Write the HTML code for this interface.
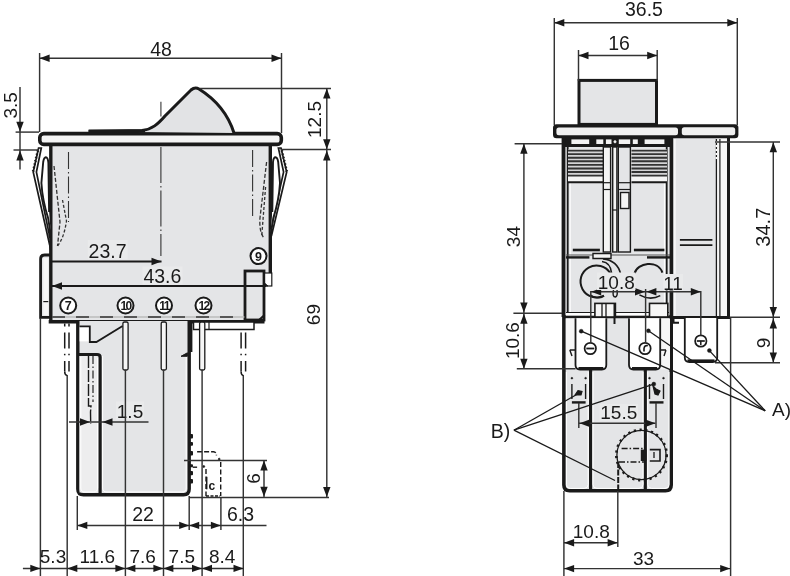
<!DOCTYPE html>
<html><head><meta charset="utf-8"><style>
html,body{margin:0;padding:0;background:#fff;}
svg{display:block;will-change:transform;font-family:"Liberation Sans",sans-serif;fill:#1a1a1a;}
text{fill:#1a1a1a;}
</style></head><body>
<svg width="790" height="576" viewBox="0 0 790 576">
<rect x="0" y="0" width="790" height="576" fill="#ffffff"/>
<rect x="51" y="146" width="220" height="140" rx="0" fill="#e4e5e7" stroke="none" stroke-width="0" />
<rect x="51" y="280" width="214" height="40" rx="0" fill="#e4e5e7" stroke="none" stroke-width="0" />
<path d="M51,317.3 L40.6,317.3 L40.6,259 Q40.6,255 44.6,255 L51,255" stroke="#1a1a1a" stroke-width="2.8" fill="#e4e5e7" />
<rect x="43.3" y="258" width="5" height="57.4" rx="0" fill="#f6f6f6" stroke="none" stroke-width="0" />
<line x1="43.3" y1="301.6" x2="48.3" y2="301.6" stroke="#1a1a1a" stroke-width="1.2" />
<rect x="245" y="271" width="19" height="49" rx="0" fill="#e4e5e7" stroke="#1a1a1a" stroke-width="2.8" />
<rect x="39.8" y="133.6" width="241.5" height="10.8" rx="4" fill="#f4f4f4" stroke="#1a1a1a" stroke-width="3.6" />
<path d="M88.6,131.5 L142,130.5 C152,129.5 158,124 165,116 L191,90 Q195,86.5 199,89 C215,99 228,114 234,133" stroke="#1a1a1a" stroke-width="3.0" fill="#e2e3e5" />
<line x1="88.6" y1="131" x2="145" y2="131" stroke="#1a1a1a" stroke-width="3.2" />
<line x1="50.8" y1="146" x2="50.8" y2="323" stroke="#1a1a1a" stroke-width="3.4" />
<line x1="270.3" y1="146" x2="270.3" y2="274" stroke="#1a1a1a" stroke-width="3.4" />
<line x1="48.7" y1="321.7" x2="264.5" y2="321.7" stroke="#1a1a1a" stroke-width="3.6" />
<rect x="264.6" y="273" width="7.2" height="13" rx="0" fill="#ffffff" stroke="#1a1a1a" stroke-width="1.2" />
<path d="M264.6,283 L268,286 L264.6,286 Z" stroke="#1a1a1a" stroke-width="0.8" fill="#1a1a1a" />
<path d="M259,320 L264.5,315" stroke="#1a1a1a" stroke-width="2" fill="none" />
<line x1="52" y1="317" x2="245" y2="317" stroke="#bbb" stroke-width="1.4" />
<line x1="52" y1="317" x2="245" y2="317" stroke="#333" stroke-width="1.6" stroke-dasharray="13,11"/>
<line x1="160.9" y1="101.8" x2="160.9" y2="116.5" stroke="#555" stroke-width="1.3" />
<line x1="160.9" y1="147" x2="160.9" y2="256" stroke="#333333" stroke-width="1.1" stroke-dasharray="36,3,1.5,3"/>
<line x1="68.5" y1="152" x2="68.5" y2="222" stroke="#333333" stroke-width="1.1" stroke-dasharray="17,3,1.5,3"/>
<line x1="252.6" y1="150" x2="252.6" y2="216" stroke="#333333" stroke-width="1.1" stroke-dasharray="17,3,1.5,3"/>
<path d="M38.6,148 L33.2,172 L50.8,250 L50.6,241 L36.4,172 L41.3,148 Z" stroke="#1a1a1a" stroke-width="1.7" fill="#ffffff" />
<line x1="36.55" y1="150.4" x2="38.75" y2="151.8" stroke="#1a1a1a" stroke-width="1.3" />
<line x1="35.8075" y1="153.70000000000002" x2="38.0075" y2="155.10000000000002" stroke="#1a1a1a" stroke-width="1.3" />
<line x1="35.065000000000005" y1="157.0" x2="37.26500000000001" y2="158.4" stroke="#1a1a1a" stroke-width="1.3" />
<line x1="34.3225" y1="160.3" x2="36.5225" y2="161.70000000000002" stroke="#1a1a1a" stroke-width="1.3" />
<line x1="33.580000000000005" y1="163.6" x2="35.78000000000001" y2="165.0" stroke="#1a1a1a" stroke-width="1.3" />
<line x1="32.8375" y1="166.9" x2="35.0375" y2="168.3" stroke="#1a1a1a" stroke-width="1.3" />
<line x1="32.095" y1="170.20000000000002" x2="34.295" y2="171.60000000000002" stroke="#1a1a1a" stroke-width="1.3" />
<path d="M49.1,212 L48.4,163 Q47.9,157.3 45.9,157.3 Q43.9,157.5 43.2,162 L41.4,183 Q42.4,200 48.1,218 L51,236" stroke="#1a1a1a" stroke-width="1.9" fill="#ffffff" />
<path d="M54,166 L60,222 L57.5,246" stroke="#333" stroke-width="1.3" fill="none" stroke-dasharray="4,2"/>
<path d="M62.5,200 L66.5,221 Q64,238 57.5,246" stroke="#333" stroke-width="1.3" fill="none" stroke-dasharray="3,2"/>
<path d="M281,148 L286.7,172 L271.4,236 L271.2,228 L283.6,172 L278.4,148 Z" stroke="#1a1a1a" stroke-width="1.7" fill="#ffffff" />
<line x1="280.875" y1="151.8" x2="283.07500000000005" y2="150.4" stroke="#1a1a1a" stroke-width="1.3" />
<line x1="281.65875" y1="155.10000000000002" x2="283.85875000000004" y2="153.70000000000002" stroke="#1a1a1a" stroke-width="1.3" />
<line x1="282.4425" y1="158.4" x2="284.64250000000004" y2="157.0" stroke="#1a1a1a" stroke-width="1.3" />
<line x1="283.22625" y1="161.70000000000002" x2="285.42625000000004" y2="160.3" stroke="#1a1a1a" stroke-width="1.3" />
<line x1="284.01" y1="165.0" x2="286.21000000000004" y2="163.6" stroke="#1a1a1a" stroke-width="1.3" />
<line x1="284.79375" y1="168.3" x2="286.99375000000003" y2="166.9" stroke="#1a1a1a" stroke-width="1.3" />
<line x1="285.5775" y1="171.60000000000002" x2="287.77750000000003" y2="170.20000000000002" stroke="#1a1a1a" stroke-width="1.3" />
<path d="M272.3,212 L273,162 Q273.5,157.3 275.5,157.3 Q277.5,157.5 278.2,162 L280,183 Q279,200 273.3,218 L270.4,236" stroke="#1a1a1a" stroke-width="1.9" fill="#ffffff" />
<path d="M266.6,162 L260,217.7 Q259,232 264,238" stroke="#333" stroke-width="1.3" fill="none" stroke-dasharray="4,2"/>
<path d="M265.6,187 L261.8,235" stroke="#333" stroke-width="1.3" fill="none" stroke-dasharray="3,2"/>
<circle cx="68.2" cy="305.5" r="8" stroke="#1a1a1a" stroke-width="2.0" fill="#ffffff"/>
<text x="68.2" y="309.9" font-size="12.5" text-anchor="middle" font-weight="bold">7</text>
<circle cx="125.5" cy="305.5" r="8" stroke="#1a1a1a" stroke-width="2.0" fill="#ffffff"/>
<text x="125.5" y="309.9" font-size="12" text-anchor="middle" letter-spacing="-1.6" font-weight="bold">10</text>
<circle cx="164" cy="305.5" r="8" stroke="#1a1a1a" stroke-width="2.0" fill="#ffffff"/>
<text x="164" y="309.9" font-size="12" text-anchor="middle" letter-spacing="-1.6" font-weight="bold">11</text>
<circle cx="203.5" cy="305.5" r="8" stroke="#1a1a1a" stroke-width="2.0" fill="#ffffff"/>
<text x="203.5" y="309.9" font-size="12" text-anchor="middle" letter-spacing="-1.6" font-weight="bold">12</text>
<circle cx="258.5" cy="256.1" r="8" stroke="#1a1a1a" stroke-width="2.0" fill="#ffffff"/>
<text x="258.5" y="260.5" font-size="12.5" text-anchor="middle" font-weight="bold">9</text>
<path d="M77.8,321 L77.8,489 Q77.8,494.7 83.5,494.7 L183.5,494.7 Q189.2,494.7 189.2,489 L189.2,321" stroke="#1a1a1a" stroke-width="3.4" fill="#e4e5e7" />
<rect x="79.6" y="327" width="9.4" height="14.4" rx="0" fill="#ffffff" stroke="none" stroke-width="0" />
<path d="M79.5,326.4 L89.8,326.4 L89.8,342 L96.4,342 L122.6,326" stroke="#1a1a1a" stroke-width="1.8" fill="none" />
<rect x="79.5" y="355.5" width="19" height="137" rx="0" fill="#ededee" stroke="none" stroke-width="0" />
<path d="M79,354.5 L97,354.5 Q100.1,354.5 100.1,357 L100.1,494" stroke="#1a1a1a" stroke-width="3.2" fill="none" />
<path d="M80.8,357 L80.8,488 Q80.8,492 85,492 L93.5,492 Q97.6,492 97.6,488 L97.6,358" stroke="#ffffff" stroke-width="1" fill="none" />
<path d="M102.6,356 L102.6,488 Q102.6,492 107,492 L181.8,492 Q186.2,492 186.2,488 L186.2,356" stroke="#ffffff" stroke-width="1" fill="none" />
<line x1="93" y1="356" x2="93" y2="402" stroke="#333" stroke-width="1.3" stroke-dasharray="8,2.5,1.5,2.5"/>
<path d="M88.5,356 L88.5,406 L91,406 L90.5,412 L90.7,424" stroke="#1a1a1a" stroke-width="1.4" fill="none" stroke-dasharray="12,2"/>
<line x1="190.3" y1="322" x2="190.3" y2="352" stroke="#1a1a1a" stroke-width="4.2" />
<path d="M181,356.3 L187.4,352.8 L187.4,356.3 Z" stroke="#1a1a1a" stroke-width="1" fill="#1a1a1a" />
<rect x="193.5" y="322" width="60.5" height="7.5" rx="0" fill="#ffffff" stroke="#1a1a1a" stroke-width="1.5" />
<line x1="209" y1="322" x2="209" y2="329.5" stroke="#1a1a1a" stroke-width="1.2" />
<rect x="122.9" y="322" width="5.2" height="48" rx="1.5" fill="#f6f6f6" stroke="#1a1a1a" stroke-width="1.3" />
<rect x="161.20000000000002" y="322" width="5.2" height="48" rx="1.5" fill="#f6f6f6" stroke="#1a1a1a" stroke-width="1.3" />
<rect x="199.6" y="322" width="5.2" height="48" rx="1.5" fill="#f6f6f6" stroke="#1a1a1a" stroke-width="1.3" />
<line x1="64.7" y1="323.5" x2="64.7" y2="326.5" stroke="#1a1a1a" stroke-width="1.5" />
<line x1="64.7" y1="332.5" x2="64.7" y2="348.5" stroke="#1a1a1a" stroke-width="1.5" />
<line x1="64.7" y1="353.8" x2="64.7" y2="355.3" stroke="#1a1a1a" stroke-width="1.5" />
<line x1="64.7" y1="361" x2="64.7" y2="371.5" stroke="#1a1a1a" stroke-width="1.5" />
<line x1="69" y1="323.5" x2="69" y2="326.5" stroke="#1a1a1a" stroke-width="1.5" />
<line x1="69" y1="332.5" x2="69" y2="348.5" stroke="#1a1a1a" stroke-width="1.5" />
<line x1="69" y1="353.8" x2="69" y2="355.3" stroke="#1a1a1a" stroke-width="1.5" />
<line x1="69" y1="361" x2="69" y2="371.5" stroke="#1a1a1a" stroke-width="1.5" />
<path d="M64.7,371.5 Q64.7,375.2 67.2,375.5" stroke="#1a1a1a" stroke-width="1.5" fill="none" />
<line x1="241.1" y1="332.5" x2="241.1" y2="348.5" stroke="#1a1a1a" stroke-width="1.5" />
<line x1="241.1" y1="353.8" x2="241.1" y2="355.3" stroke="#1a1a1a" stroke-width="1.5" />
<line x1="241.1" y1="361" x2="241.1" y2="371.5" stroke="#1a1a1a" stroke-width="1.5" />
<line x1="245.6" y1="332.5" x2="245.6" y2="348.5" stroke="#1a1a1a" stroke-width="1.5" />
<line x1="245.6" y1="353.8" x2="245.6" y2="355.3" stroke="#1a1a1a" stroke-width="1.5" />
<line x1="245.6" y1="361" x2="245.6" y2="371.5" stroke="#1a1a1a" stroke-width="1.5" />
<path d="M241.1,371.5 Q241.1,375.2 243.3,375.5" stroke="#1a1a1a" stroke-width="1.5" fill="none" />
<path d="M197.1,451.7 L213.5,451.7 Q216.3,452 216.5,455.4" stroke="#1a1a1a" stroke-width="1.5" fill="none" stroke-dasharray="5,2"/>
<circle cx="219.2" cy="459.1" r="0.9" stroke="#1a1a1a" stroke-width="0.8" fill="#1a1a1a"/>
<line x1="220.7" y1="462" x2="220.7" y2="496" stroke="#1a1a1a" stroke-width="1.4" stroke-dasharray="5,2.5"/>
<circle cx="203.8" cy="466.5" r="0.9" stroke="#1a1a1a" stroke-width="0.8" fill="#1a1a1a"/>
<line x1="206" y1="469" x2="206" y2="496" stroke="#1a1a1a" stroke-width="1.4" stroke-dasharray="5,2.5"/>
<text x="211.8" y="489.6" font-size="12" text-anchor="middle" font-weight="bold">c</text>
<line x1="206.7" y1="476.8" x2="206.7" y2="489.3" stroke="#1a1a1a" stroke-width="1.5" />
<line x1="192.7" y1="467.2" x2="197.1" y2="467.2" stroke="#1a1a1a" stroke-width="1.4" />
<line x1="206" y1="496" x2="220" y2="496" stroke="#1a1a1a" stroke-width="1.4" stroke-dasharray="3,1.5"/>
<rect x="189" y="434" width="4" height="4.399999999999977" rx="1" fill="#1a1a1a" stroke="none" stroke-width="0" />
<rect x="189" y="442" width="4" height="3.8000000000000114" rx="1" fill="#1a1a1a" stroke="none" stroke-width="0" />
<rect x="189" y="451" width="4" height="4.399999999999977" rx="1" fill="#1a1a1a" stroke="none" stroke-width="0" />
<rect x="189" y="464.2" width="4" height="3.0" rx="1" fill="#1a1a1a" stroke="none" stroke-width="0" />
<rect x="189" y="471" width="4" height="4.300000000000011" rx="1" fill="#1a1a1a" stroke="none" stroke-width="0" />
<rect x="189" y="479" width="4" height="4.399999999999977" rx="1" fill="#1a1a1a" stroke="none" stroke-width="0" />
<line x1="39.6" y1="53" x2="39.6" y2="132" stroke="#333333" stroke-width="1.45" />
<line x1="281.5" y1="53" x2="281.5" y2="133" stroke="#333333" stroke-width="1.45" />
<line x1="39.6" y1="58.3" x2="281.5" y2="58.3" stroke="#333333" stroke-width="1.45" />
<polygon points="39.6,58.3 49.6,54.6 49.6,62.0" fill="#1a1a1a"/>
<polygon points="281.5,58.3 271.5,54.6 271.5,62.0" fill="#1a1a1a"/>
<text x="161" y="55.7" font-size="19.5" text-anchor="middle" >48</text>
<line x1="15.6" y1="132.1" x2="39" y2="132.1" stroke="#333333" stroke-width="1.45" />
<line x1="13.5" y1="150" x2="39" y2="150" stroke="#333333" stroke-width="1.45" />
<line x1="20" y1="87" x2="20" y2="169.4" stroke="#333333" stroke-width="1.45" />
<polygon points="20.0,131.8 16.3,121.8 23.7,121.8" fill="#1a1a1a"/>
<polygon points="20.0,150.4 16.3,160.4 23.7,160.4" fill="#1a1a1a"/>
<text x="17.4" y="105.4" font-size="19" text-anchor="middle" transform="rotate(-90 17.4 105.4)" >3.5</text>
<line x1="200" y1="88.5" x2="331" y2="88.5" stroke="#333333" stroke-width="1.45" />
<line x1="281" y1="149.5" x2="331" y2="149.5" stroke="#333333" stroke-width="1.45" />
<line x1="326.8" y1="88.5" x2="326.8" y2="497" stroke="#333333" stroke-width="1.45" />
<polygon points="326.8,88.5 323.1,98.5 330.5,98.5" fill="#1a1a1a"/>
<polygon points="326.8,149.3 323.1,139.3 330.5,139.3" fill="#1a1a1a"/>
<polygon points="326.8,150.6 323.1,160.6 330.5,160.6" fill="#1a1a1a"/>
<polygon points="326.8,497.0 323.1,487.0 330.5,487.0" fill="#1a1a1a"/>
<text x="320.8" y="119.5" font-size="19" text-anchor="middle" transform="rotate(-90 320.8 119.5)" >12.5</text>
<text x="320" y="314.6" font-size="19" text-anchor="middle" transform="rotate(-90 320 314.6)" >69</text>
<line x1="52" y1="261.5" x2="161.5" y2="261.5" stroke="#1a1a1a" stroke-width="1.9" />
<polygon points="161.5,261.5 151.5,257.8 151.5,265.2" fill="#1a1a1a"/>
<rect x="87.8" y="240" width="39.9" height="19.5" rx="0" fill="#e9eaeb" stroke="none" stroke-width="0" />
<text x="107.6" y="258.2" font-size="19.5" text-anchor="middle" >23.7</text>
<line x1="52" y1="286" x2="266" y2="286" stroke="#1a1a1a" stroke-width="1.9" />
<polygon points="52.0,286.0 62.0,282.3 62.0,289.7" fill="#1a1a1a"/>
<rect x="142.5" y="266.5" width="40.0" height="18.0" rx="0" fill="#e9eaeb" stroke="none" stroke-width="0" />
<text x="162.4" y="283.1" font-size="19.5" text-anchor="middle" >43.6</text>
<line x1="69" y1="422" x2="148.5" y2="422" stroke="#333333" stroke-width="1.45" />
<polygon points="90.0,422.0 80.0,418.3 80.0,425.7" fill="#1a1a1a"/>
<polygon points="102.5,422.0 112.5,418.3 112.5,425.7" fill="#1a1a1a"/>
<rect x="116" y="401.5" width="28.0" height="18.0" rx="0" fill="#e9eaeb" stroke="none" stroke-width="0" />
<text x="130" y="418" font-size="19" text-anchor="middle" >1.5</text>
<line x1="184" y1="460.4" x2="267" y2="460.4" stroke="#333333" stroke-width="1.45" />
<line x1="189" y1="497.5" x2="329" y2="497.5" stroke="#333333" stroke-width="1.45" />
<line x1="264" y1="460.4" x2="264" y2="497" stroke="#333333" stroke-width="1.45" />
<polygon points="264.0,460.6 260.3,470.6 267.7,470.6" fill="#1a1a1a"/>
<polygon points="264.0,496.8 260.3,486.8 267.7,486.8" fill="#1a1a1a"/>
<text x="259.8" y="478.4" font-size="19" text-anchor="middle" transform="rotate(-90 259.8 478.4)" >6</text>
<line x1="40.4" y1="318" x2="40.4" y2="576" stroke="#333333" stroke-width="1.45" />
<line x1="67.2" y1="375" x2="67.2" y2="576" stroke="#333333" stroke-width="1.45" />
<line x1="125.4" y1="370" x2="125.4" y2="576" stroke="#333333" stroke-width="1.45" />
<line x1="163.5" y1="370" x2="163.5" y2="576" stroke="#333333" stroke-width="1.45" />
<line x1="202.1" y1="370" x2="202.1" y2="576" stroke="#333333" stroke-width="1.45" />
<line x1="243.3" y1="375" x2="243.3" y2="576" stroke="#333333" stroke-width="1.45" />
<line x1="77.3" y1="496" x2="77.3" y2="530" stroke="#333333" stroke-width="1.45" />
<line x1="189.2" y1="496" x2="189.2" y2="530" stroke="#333333" stroke-width="1.45" />
<line x1="220.9" y1="497" x2="220.9" y2="530" stroke="#333333" stroke-width="1.45" />
<line x1="77.3" y1="525.4" x2="266.5" y2="525.4" stroke="#333333" stroke-width="1.45" />
<polygon points="77.3,525.4 87.3,521.7 87.3,529.1" fill="#1a1a1a"/>
<polygon points="189.2,525.4 179.2,521.7 179.2,529.1" fill="#1a1a1a"/>
<polygon points="189.2,525.4 199.2,521.7 199.2,529.1" fill="#1a1a1a"/>
<polygon points="220.9,525.4 210.9,521.7 210.9,529.1" fill="#1a1a1a"/>
<text x="143" y="520.9" font-size="19.5" text-anchor="middle" >22</text>
<text x="240.5" y="520.9" font-size="19.5" text-anchor="middle" >6.3</text>
<line x1="22.9" y1="568.4" x2="243.5" y2="568.4" stroke="#333333" stroke-width="1.45" />
<polygon points="40.3,568.4 30.3,564.7 30.3,572.1" fill="#1a1a1a"/>
<polygon points="67.3,568.4 77.3,564.7 77.3,572.1" fill="#1a1a1a"/>
<polygon points="125.4,568.4 115.4,564.7 115.4,572.1" fill="#1a1a1a"/>
<polygon points="125.4,568.4 135.4,564.7 135.4,572.1" fill="#1a1a1a"/>
<polygon points="163.4,568.4 153.4,564.7 153.4,572.1" fill="#1a1a1a"/>
<polygon points="163.4,568.4 173.4,564.7 173.4,572.1" fill="#1a1a1a"/>
<polygon points="202.0,568.4 192.0,564.7 192.0,572.1" fill="#1a1a1a"/>
<polygon points="202.0,568.4 212.0,564.7 212.0,572.1" fill="#1a1a1a"/>
<polygon points="243.5,568.4 233.5,564.7 233.5,572.1" fill="#1a1a1a"/>
<text x="53" y="563.0" font-size="19" text-anchor="middle" >5.3</text>
<text x="97.4" y="563.0" font-size="19" text-anchor="middle" >11.6</text>
<text x="142.7" y="563.0" font-size="19" text-anchor="middle" >7.6</text>
<text x="181.8" y="563.0" font-size="19" text-anchor="middle" >7.5</text>
<text x="222.2" y="563.0" font-size="19" text-anchor="middle" >8.4</text>
<rect x="579" y="80.4" width="77.5" height="44" rx="0" fill="#e4e5e7" stroke="#1a1a1a" stroke-width="3" />
<rect x="564" y="138" width="107" height="180" rx="0" fill="#e4e5e7" stroke="none" stroke-width="0" />
<rect x="671" y="138" width="57.5" height="180" rx="0" fill="#e4e5e7" stroke="none" stroke-width="0" />
<rect x="716.4" y="138" width="12" height="180" rx="0" fill="#f6f6f6" stroke="none" stroke-width="0" />
<line x1="716.4" y1="139" x2="716.4" y2="317" stroke="#1a1a1a" stroke-width="1.3" />
<line x1="716.4" y1="141" x2="716.4" y2="160" stroke="#fff" stroke-width="1.6" stroke-dasharray="2,2"/>
<line x1="719.9" y1="139" x2="719.9" y2="317" stroke="#1a1a1a" stroke-width="1.2" />
<line x1="728.5" y1="137" x2="728.5" y2="319" stroke="#1a1a1a" stroke-width="3" />
<line x1="671.5" y1="317.5" x2="729.9" y2="317.5" stroke="#1a1a1a" stroke-width="3" />
<path d="M673.5,317 L673.5,322.8 L679,322.8" stroke="#1a1a1a" stroke-width="2" fill="none" />
<line x1="679.9" y1="239.9" x2="712.4" y2="239.9" stroke="#1a1a1a" stroke-width="1.8" />
<line x1="679.9" y1="245.1" x2="712.4" y2="245.1" stroke="#1a1a1a" stroke-width="1.8" />
<rect x="553" y="124.3" width="185.4" height="14" rx="3.5" fill="#1a1a1a" stroke="none" stroke-width="0" />
<rect x="556.4" y="127.4" width="121.6" height="7.9" rx="2.5" fill="#f0f0f0" stroke="none" stroke-width="0" />
<rect x="681.8" y="127.2" width="53.4" height="8.1" rx="2.5" fill="#f0f0f0" stroke="none" stroke-width="0" />
<rect x="563" y="137" width="109" height="10" rx="0" fill="#1a1a1a" stroke="none" stroke-width="0" />
<rect x="571.4" y="139.4" width="17.800000000000068" height="4.6" rx="0" fill="#f2f2f2" stroke="none" stroke-width="0" />
<rect x="596.3" y="139.4" width="7.0" height="4.6" rx="0" fill="#f2f2f2" stroke="none" stroke-width="0" />
<rect x="605.9" y="139.4" width="5.600000000000023" height="4.6" rx="0" fill="#f2f2f2" stroke="none" stroke-width="0" />
<rect x="618.8" y="139.4" width="11.400000000000091" height="4.6" rx="0" fill="#f2f2f2" stroke="none" stroke-width="0" />
<rect x="632.8" y="139.4" width="5.0" height="4.6" rx="0" fill="#f2f2f2" stroke="none" stroke-width="0" />
<rect x="644.6" y="139.4" width="19.799999999999955" height="4.6" rx="0" fill="#f2f2f2" stroke="none" stroke-width="0" />
<circle cx="615" cy="141.8" r="1.2" stroke="#f2f2f2" stroke-width="0.6" fill="#f2f2f2"/>
<line x1="567.7" y1="147" x2="567.7" y2="312" stroke="#1a1a1a" stroke-width="1.8" />
<line x1="666.7" y1="147" x2="666.7" y2="312" stroke="#1a1a1a" stroke-width="1.8" />
<line x1="570.2" y1="183" x2="570.2" y2="312" stroke="#ffffff" stroke-width="1" />
<line x1="664.4" y1="183" x2="664.4" y2="312" stroke="#ffffff" stroke-width="1" />
<line x1="674.9" y1="139" x2="674.9" y2="316" stroke="#ffffff" stroke-width="1.2" />
<rect x="568" y="149.5" width="35.299999999999955" height="33" rx="0" fill="#f4f4f4" stroke="none" stroke-width="0" />
<rect x="568" y="150.5" width="35.299999999999955" height="25.5" rx="0" fill="#d4d4d6" stroke="none" stroke-width="0" />
<line x1="568" y1="150.6" x2="603.3" y2="150.6" stroke="#333" stroke-width="1.9" />
<line x1="568" y1="154.17" x2="603.3" y2="154.17" stroke="#333" stroke-width="1.9" />
<line x1="568" y1="157.73999999999998" x2="603.3" y2="157.73999999999998" stroke="#333" stroke-width="1.9" />
<line x1="568" y1="161.31" x2="603.3" y2="161.31" stroke="#333" stroke-width="1.9" />
<line x1="568" y1="164.88" x2="603.3" y2="164.88" stroke="#333" stroke-width="1.9" />
<line x1="568" y1="168.45" x2="603.3" y2="168.45" stroke="#333" stroke-width="1.9" />
<line x1="568" y1="172.01999999999998" x2="603.3" y2="172.01999999999998" stroke="#333" stroke-width="1.9" />
<line x1="568" y1="175.59" x2="603.3" y2="175.59" stroke="#333" stroke-width="1.9" />
<line x1="568" y1="182.2" x2="603.3" y2="182.2" stroke="#1a1a1a" stroke-width="2" />
<rect x="631.5" y="149.5" width="35.5" height="33" rx="0" fill="#f4f4f4" stroke="none" stroke-width="0" />
<rect x="631.5" y="150.5" width="35.5" height="25.5" rx="0" fill="#d4d4d6" stroke="none" stroke-width="0" />
<line x1="631.5" y1="150.6" x2="667" y2="150.6" stroke="#333" stroke-width="1.9" />
<line x1="631.5" y1="154.17" x2="667" y2="154.17" stroke="#333" stroke-width="1.9" />
<line x1="631.5" y1="157.73999999999998" x2="667" y2="157.73999999999998" stroke="#333" stroke-width="1.9" />
<line x1="631.5" y1="161.31" x2="667" y2="161.31" stroke="#333" stroke-width="1.9" />
<line x1="631.5" y1="164.88" x2="667" y2="164.88" stroke="#333" stroke-width="1.9" />
<line x1="631.5" y1="168.45" x2="667" y2="168.45" stroke="#333" stroke-width="1.9" />
<line x1="631.5" y1="172.01999999999998" x2="667" y2="172.01999999999998" stroke="#333" stroke-width="1.9" />
<line x1="631.5" y1="175.59" x2="667" y2="175.59" stroke="#333" stroke-width="1.9" />
<line x1="631.5" y1="182.2" x2="667" y2="182.2" stroke="#1a1a1a" stroke-width="2" />
<rect x="603.3" y="147" width="7.3" height="105" rx="0" fill="#f4f4f4" stroke="#1a1a1a" stroke-width="1.4" />
<rect x="612.7" y="147" width="4.2" height="105" rx="0" fill="#f4f4f4" stroke="#1a1a1a" stroke-width="1.4" />
<rect x="618.3" y="147" width="12.1" height="105" rx="0" fill="#e4e5e7" stroke="#1a1a1a" stroke-width="1.4" />
<line x1="603.3" y1="182.7" x2="610.6" y2="182.7" stroke="#1a1a1a" stroke-width="1.2" />
<line x1="603.3" y1="189.5" x2="610.6" y2="189.5" stroke="#1a1a1a" stroke-width="1.2" />
<line x1="618.3" y1="182.7" x2="630.4" y2="182.7" stroke="#1a1a1a" stroke-width="1.2" />
<line x1="618.3" y1="189.5" x2="630.4" y2="189.5" stroke="#1a1a1a" stroke-width="1.2" />
<line x1="612.7" y1="210" x2="616.9" y2="210" stroke="#1a1a1a" stroke-width="1.2" />
<rect x="620.5" y="192.5" width="8.5" height="16" rx="0" fill="#f4f4f4" stroke="#1a1a1a" stroke-width="1.4" />
<line x1="572.8" y1="250" x2="599.9" y2="250" stroke="#1a1a1a" stroke-width="2.6" />
<line x1="633.9" y1="250" x2="664.4" y2="250" stroke="#1a1a1a" stroke-width="2.6" />
<line x1="566" y1="255" x2="670" y2="255" stroke="#555" stroke-width="1" />
<line x1="566" y1="257.4" x2="589.4" y2="257.4" stroke="#1a1a1a" stroke-width="2.4" />
<line x1="647" y1="257.4" x2="670" y2="257.4" stroke="#1a1a1a" stroke-width="2.4" />
<path d="M593,253.5 L611,253.5 L611,258.5 L593,258.5 Z" stroke="#1a1a1a" stroke-width="1.4" fill="#f4f4f4" />
<path d="M610.3,273.3 A16,16 0 1 0 604,295.6" stroke="#1a1a1a" stroke-width="2" fill="none" />
<path d="M603,258.8 C612,259.5 619,265 620.7,274.7" stroke="#1a1a1a" stroke-width="1.7" fill="none" />
<path d="M602,261.5 C607,262 611,266 611.7,273.8" stroke="#1a1a1a" stroke-width="1.7" fill="none" />
<path d="M634.6,273.3 C637,263 658,259 662.4,272.6" stroke="#1a1a1a" stroke-width="2" fill="none" />
<path d="M590,294.8 Q597,300 604,296" stroke="#1a1a1a" stroke-width="1.6" fill="none" />
<path d="M639.4,294.9 Q650,301 660.3,295.6" stroke="#1a1a1a" stroke-width="1.6" fill="none" />
<path d="M613.5,290 Q612,297 615.5,297 Q618,296 617,290" stroke="#1a1a1a" stroke-width="1.4" fill="none" />
<line x1="563.5" y1="137" x2="563.5" y2="317" stroke="#1a1a1a" stroke-width="3.8" />
<line x1="671.4" y1="137" x2="671.4" y2="318" stroke="#1a1a1a" stroke-width="3.6" />
<path d="M563.9,317 L563.9,485 Q563.9,490.8 569.7,490.8 L665.5,490.8 Q671.2,490.8 671.2,485 L671.2,317" stroke="#1a1a1a" stroke-width="3.6" fill="#e4e5e7" />
<line x1="563.8" y1="316.8" x2="671.7" y2="316.8" stroke="#1a1a1a" stroke-width="3" />
<rect x="565.8" y="318.5" width="9.2" height="51" rx="0" fill="#f6f6f6" stroke="none" stroke-width="0" />
<rect x="660.5" y="318.5" width="9.5" height="51" rx="0" fill="#f6f6f6" stroke="none" stroke-width="0" />
<path d="M569.8,350 L575.5,350 M569.8,350 L572,356" stroke="#1a1a1a" stroke-width="1.4" fill="none" />
<path d="M666,350 L660.5,350 M666,350 L664,356" stroke="#1a1a1a" stroke-width="1.4" fill="none" />
<line x1="590.6" y1="370" x2="590.6" y2="490" stroke="#1a1a1a" stroke-width="3.2" />
<line x1="645.3" y1="370" x2="645.3" y2="490" stroke="#1a1a1a" stroke-width="3.2" />
<path d="M566.4,372 L566.4,484.5 Q566.4,488.4 570.4,488.4 L584.2,488.4 Q588.2,488.4 588.2,484.5 L588.2,372" stroke="#ffffff" stroke-width="1" fill="none" />
<path d="M593,372 L593,484.5 Q593,488.4 597,488.4 L639,488.4 Q643,488.4 643,484.5 L643,372" stroke="#ffffff" stroke-width="1" fill="none" />
<path d="M647.7,372 L647.7,484.5 Q647.7,488.4 651.7,488.4 L665,488.4 Q669,488.4 669,484.5 L669,372" stroke="#ffffff" stroke-width="1" fill="none" />
<path d="M575.5,318.2 L575.5,365 Q575.5,369.5 580.0,369.5 L601.8,369.5 Q606.3,369.5 606.3,365 L606.3,318.2" stroke="#1a1a1a" stroke-width="1.8" fill="#ffffff" />
<line x1="578.5" y1="368.3" x2="603.3" y2="368.3" stroke="#1a1a1a" stroke-width="2.6" />
<path d="M629,318.2 L629,365 Q629,369.5 633.5,369.5 L655.7,369.5 Q660.2,369.5 660.2,365 L660.2,318.2" stroke="#1a1a1a" stroke-width="1.8" fill="#ffffff" />
<line x1="632" y1="368.3" x2="657.2" y2="368.3" stroke="#1a1a1a" stroke-width="2.6" />
<rect x="566" y="313" width="103" height="2.6" rx="0" fill="#ffffff" stroke="none" stroke-width="0" />
<line x1="566" y1="312.5" x2="669" y2="312.5" stroke="#1a1a1a" stroke-width="1.2" />
<rect x="594.9" y="303.4" width="20.5" height="13.6" rx="0" fill="#f6f6f6" stroke="#1a1a1a" stroke-width="1.6" />
<line x1="602" y1="303.4" x2="602" y2="317" stroke="#1a1a1a" stroke-width="1.3" />
<line x1="606" y1="303.4" x2="606" y2="317" stroke="#1a1a1a" stroke-width="1.3" />
<line x1="614.5" y1="303.4" x2="614.5" y2="324" stroke="#1a1a1a" stroke-width="2" />
<rect x="649.5" y="303.4" width="18.3" height="13.6" rx="0" fill="#f6f6f6" stroke="#1a1a1a" stroke-width="1.6" />
<circle cx="590.3" cy="348.5" r="5.7" stroke="#1a1a1a" stroke-width="1.7" fill="#ffffff"/>
<line x1="586.3" y1="348.5" x2="594.3" y2="348.5" stroke="#1a1a1a" stroke-width="1.8" />
<circle cx="645" cy="348.5" r="5.7" stroke="#1a1a1a" stroke-width="1.7" fill="#ffffff"/>
<path d="M647.8,345.8 Q644.5,344.8 644,348.5 L644,351.5" stroke="#1a1a1a" stroke-width="1.6" fill="none" />
<path d="M684.8,318 L684.8,357.5 Q684.8,362 689.3,362 L712.7,362 Q717.2,362 717.2,357.5 L717.2,318" stroke="#1a1a1a" stroke-width="1.8" fill="#ffffff" />
<line x1="687.5" y1="360.7" x2="714.5" y2="360.7" stroke="#1a1a1a" stroke-width="2.6" />
<circle cx="700.8" cy="341" r="5.7" stroke="#1a1a1a" stroke-width="1.7" fill="#ffffff"/>
<line x1="696.8" y1="341" x2="704.8" y2="341" stroke="#1a1a1a" stroke-width="1.7" />
<line x1="700.8" y1="341" x2="700.8" y2="345" stroke="#1a1a1a" stroke-width="1.5" />
<circle cx="581.2" cy="331.2" r="2" stroke="#1a1a1a" stroke-width="0.4" fill="#1a1a1a"/>
<circle cx="648.4" cy="330.8" r="2" stroke="#1a1a1a" stroke-width="0.4" fill="#1a1a1a"/>
<circle cx="709.4" cy="350.6" r="2" stroke="#1a1a1a" stroke-width="0.4" fill="#1a1a1a"/>
<circle cx="653.8" cy="384.1" r="2" stroke="#1a1a1a" stroke-width="0.4" fill="#1a1a1a"/>
<circle cx="571.9" cy="378.2" r="0.9" stroke="#1a1a1a" stroke-width="0.5" fill="#1a1a1a"/>
<circle cx="585.6" cy="378.2" r="0.9" stroke="#1a1a1a" stroke-width="0.5" fill="#1a1a1a"/>
<line x1="571.9" y1="384" x2="571.9" y2="399" stroke="#1a1a1a" stroke-width="1.4" />
<line x1="585.6" y1="384" x2="585.6" y2="399" stroke="#1a1a1a" stroke-width="1.4" />
<line x1="571.9" y1="402.4" x2="585.6" y2="402.4" stroke="#1a1a1a" stroke-width="2.4" />
<circle cx="649.5" cy="378.2" r="0.9" stroke="#1a1a1a" stroke-width="0.5" fill="#1a1a1a"/>
<circle cx="663.5" cy="378.2" r="0.9" stroke="#1a1a1a" stroke-width="0.5" fill="#1a1a1a"/>
<line x1="649.5" y1="384" x2="649.5" y2="399" stroke="#1a1a1a" stroke-width="1.4" />
<line x1="663.5" y1="384" x2="663.5" y2="399" stroke="#1a1a1a" stroke-width="1.4" />
<line x1="649.5" y1="402.4" x2="663.5" y2="402.4" stroke="#1a1a1a" stroke-width="2.4" />
<path d="M575,395 L578,390.6 L582,391.5 L581,395 Z" stroke="#1a1a1a" stroke-width="1.2" fill="#1a1a1a" />
<path d="M653,386 L656,389 L660,391 L658,395 L655,394 Z" stroke="#1a1a1a" stroke-width="1.2" fill="#1a1a1a" />
<line x1="578.8" y1="403" x2="578.8" y2="428" stroke="#333333" stroke-width="1.45" />
<line x1="656" y1="403" x2="656" y2="428" stroke="#333333" stroke-width="1.45" />
<circle cx="641.5" cy="455" r="24.6" stroke="#1a1a1a" stroke-width="1.3" fill="none"/>
<circle cx="641.5" cy="455" r="25.2" stroke="#1a1a1a" stroke-width="2.6" fill="none" stroke-dasharray="2.2,3.6"/>
<line x1="621.6" y1="448.5" x2="645.3" y2="448.5" stroke="#1a1a1a" stroke-width="1.4" stroke-dasharray="6,2,1.5,2"/>
<line x1="619" y1="462" x2="645.3" y2="462" stroke="#1a1a1a" stroke-width="1.4" stroke-dasharray="6,2,1.5,2"/>
<path d="M649.8,449.6 L660,449.6 L660,461 L649.8,461" stroke="#1a1a1a" stroke-width="1.6" fill="none" />
<line x1="654" y1="452" x2="654" y2="458" stroke="#1a1a1a" stroke-width="1.3" />
<rect x="640.8" y="449.6" width="5.6" height="11.4" rx="0" fill="#1a1a1a" stroke="none" stroke-width="0" />
<line x1="618.2" y1="462" x2="618.2" y2="489" stroke="#1a1a1a" stroke-width="2" stroke-dasharray="6,1.5"/>
<line x1="554.3" y1="18" x2="554.3" y2="125" stroke="#333333" stroke-width="1.45" />
<line x1="737.3" y1="18" x2="737.3" y2="125" stroke="#333333" stroke-width="1.45" />
<line x1="554.3" y1="22.7" x2="737.3" y2="22.7" stroke="#333333" stroke-width="1.45" />
<polygon points="554.3,22.7 564.3,19.0 564.3,26.4" fill="#1a1a1a"/>
<polygon points="737.3,22.7 727.3,19.0 727.3,26.4" fill="#1a1a1a"/>
<text x="644" y="16.1" font-size="19.5" text-anchor="middle" >36.5</text>
<line x1="578.5" y1="50" x2="578.5" y2="81" stroke="#333333" stroke-width="1.45" />
<line x1="657.2" y1="50" x2="657.2" y2="81" stroke="#333333" stroke-width="1.45" />
<line x1="578.5" y1="55.5" x2="657.2" y2="55.5" stroke="#333333" stroke-width="1.45" />
<polygon points="578.5,55.5 588.5,51.8 588.5,59.2" fill="#1a1a1a"/>
<polygon points="657.2,55.5 647.2,51.8 647.2,59.2" fill="#1a1a1a"/>
<text x="619" y="49.5" font-size="19.5" text-anchor="middle" >16</text>
<line x1="514.6" y1="143.7" x2="562" y2="143.7" stroke="#333333" stroke-width="1.45" />
<line x1="523.9" y1="143.7" x2="523.9" y2="368.8" stroke="#333333" stroke-width="1.45" />
<polygon points="523.9,143.7 520.2,153.7 527.6,153.7" fill="#1a1a1a"/>
<polygon points="523.9,312.6 520.2,302.6 527.6,302.6" fill="#1a1a1a"/>
<polygon points="523.9,313.8 520.2,323.8 527.6,323.8" fill="#1a1a1a"/>
<polygon points="523.9,368.8 520.2,358.8 527.6,358.8" fill="#1a1a1a"/>
<line x1="513.4" y1="313.2" x2="562" y2="313.2" stroke="#333333" stroke-width="1.45" />
<line x1="516.8" y1="368.8" x2="575.5" y2="368.8" stroke="#333333" stroke-width="1.45" />
<text x="519.6" y="236.6" font-size="19" text-anchor="middle" transform="rotate(-90 519.6 236.6)" >34</text>
<text x="519.5" y="340.6" font-size="19" text-anchor="middle" transform="rotate(-90 519.5 340.6)" >10.6</text>
<line x1="715" y1="142" x2="780" y2="142" stroke="#333333" stroke-width="1.45" />
<line x1="729.5" y1="317.2" x2="780" y2="317.2" stroke="#333333" stroke-width="1.45" />
<line x1="715" y1="362.8" x2="780" y2="362.8" stroke="#333333" stroke-width="1.45" />
<line x1="773.3" y1="142" x2="773.3" y2="363" stroke="#333333" stroke-width="1.45" />
<polygon points="773.3,142.2 769.6,152.2 777.0,152.2" fill="#1a1a1a"/>
<polygon points="773.3,316.9 769.6,306.9 777.0,306.9" fill="#1a1a1a"/>
<polygon points="773.3,318.5 769.6,328.5 777.0,328.5" fill="#1a1a1a"/>
<polygon points="773.3,362.5 769.6,352.5 777.0,352.5" fill="#1a1a1a"/>
<text x="770" y="227.2" font-size="20" text-anchor="middle" transform="rotate(-90 770 227.2)" >34.7</text>
<text x="770.4" y="343" font-size="19" text-anchor="middle" transform="rotate(-90 770.4 343)" >9</text>
<line x1="590.8" y1="291" x2="590.8" y2="343" stroke="#333333" stroke-width="1.45" />
<line x1="645.6" y1="289" x2="645.6" y2="343" stroke="#333333" stroke-width="1.45" />
<line x1="700.8" y1="291" x2="700.8" y2="335.5" stroke="#333333" stroke-width="1.45" />
<line x1="590.8" y1="291.8" x2="700.8" y2="291.8" stroke="#333333" stroke-width="1.45" />
<polygon points="591.2,291.8 601.2,288.1 601.2,295.5" fill="#1a1a1a"/>
<polygon points="645.0,291.8 635.0,288.1 635.0,295.5" fill="#1a1a1a"/>
<polygon points="646.4,291.8 656.4,288.1 656.4,295.5" fill="#1a1a1a"/>
<polygon points="700.8,291.8 690.8,288.1 690.8,295.5" fill="#1a1a1a"/>
<rect x="597" y="272.5" width="38.5" height="17.5" rx="0" fill="#e9eaeb" stroke="none" stroke-width="0" />
<text x="616.3" y="288.6" font-size="19" text-anchor="middle" >10.8</text>
<rect x="663.5" y="274" width="19.5" height="16.5" rx="0" fill="#e9eaeb" stroke="none" stroke-width="0" />
<text x="673" y="289.5" font-size="19" text-anchor="middle" >11</text>
<line x1="578.8" y1="423.3" x2="655.5" y2="423.3" stroke="#333333" stroke-width="1.45" />
<polygon points="579.6,423.3 589.6,419.6 589.6,427.0" fill="#1a1a1a"/>
<polygon points="655.4,423.3 645.4,419.6 645.4,427.0" fill="#1a1a1a"/>
<rect x="599.5" y="404" width="38.5" height="16.8" rx="0" fill="#e9eaeb" stroke="none" stroke-width="0" />
<text x="618.8" y="419.2" font-size="19" text-anchor="middle" >15.5</text>
<line x1="563.9" y1="491" x2="563.9" y2="576" stroke="#333333" stroke-width="1.45" />
<line x1="617.8" y1="491" x2="617.8" y2="547" stroke="#333333" stroke-width="1.45" />
<line x1="730.6" y1="317" x2="730.6" y2="576" stroke="#333333" stroke-width="1.45" />
<line x1="563.9" y1="542.8" x2="617.8" y2="542.8" stroke="#333333" stroke-width="1.45" />
<polygon points="564.1,542.8 574.1,539.1 574.1,546.5" fill="#1a1a1a"/>
<polygon points="617.6,542.8 607.6,539.1 607.6,546.5" fill="#1a1a1a"/>
<text x="591.3" y="537.7" font-size="19" text-anchor="middle" >10.8</text>
<line x1="563.9" y1="568.6" x2="730.4" y2="568.6" stroke="#333333" stroke-width="1.45" />
<polygon points="564.1,568.6 574.1,564.9 574.1,572.3" fill="#1a1a1a"/>
<polygon points="730.2,568.6 720.2,564.9 720.2,572.3" fill="#1a1a1a"/>
<text x="643.6" y="564.8" font-size="19" text-anchor="middle" >33</text>
<line x1="765.2" y1="410.8" x2="581.2" y2="331.2" stroke="#1a1a1a" stroke-width="1.3" />
<line x1="765.2" y1="410.8" x2="648.4" y2="330.8" stroke="#1a1a1a" stroke-width="1.3" />
<line x1="765.2" y1="410.8" x2="709.4" y2="350.6" stroke="#1a1a1a" stroke-width="1.3" />
<line x1="513.9" y1="430.2" x2="578.5" y2="393.5" stroke="#1a1a1a" stroke-width="1.3" />
<line x1="513.9" y1="430.2" x2="653.8" y2="384.1" stroke="#1a1a1a" stroke-width="1.3" />
<line x1="513.9" y1="430.2" x2="615" y2="480.5" stroke="#1a1a1a" stroke-width="1.3" />
<text x="772" y="415.9" font-size="19" text-anchor="start" >A)</text>
<text x="490.7" y="438.2" font-size="19.5" text-anchor="start" >B)</text>
</svg>
</body></html>
